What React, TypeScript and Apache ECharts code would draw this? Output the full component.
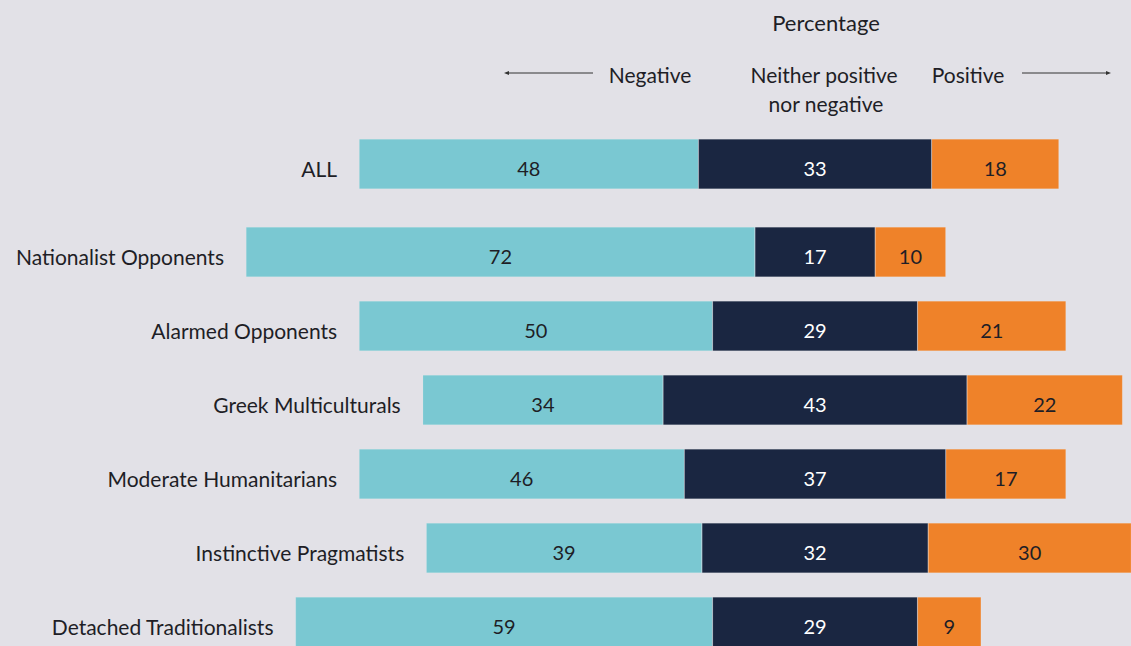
import React, { useEffect, useRef } from "react";
import * as echarts from "echarts";

const categories = [
  "ALL",
  "Nationalist Opponents",
  "Alarmed Opponents",
  "Greek Multiculturals",
  "Moderate Humanitarians",
  "Instinctive Pragmatists",
  "Detached Traditionalists",
];
const negative = [48, 72, 50, 34, 46, 39, 59];
const neither = [33, 17, 29, 43, 37, 32, 29];
const positive = [18, 10, 21, 22, 17, 30, 9];

const CENTER = 115.3; // axis value where the middle of the neutral segment sits
const AXIS_MAX = 160;

const BG = "#E2E1E7";
const TEAL = "#7AC8D2";
const NAVY = "#1A2641";
const ORANGE = "#EF8229";
const TEXT = "#1E1E26";
const FONT = "Lato, 'Noto Sans', sans-serif";

export default function App() {
  const ref = useRef<HTMLDivElement>(null);

  useEffect(() => {
    document.body.style.margin = "0";
    document.body.style.background = BG;
    const chart = echarts.init(ref.current!, undefined, { renderer: "svg" });

    const offsets = categories.map((_, i) => CENTER - negative[i] - neither[i] / 2);

    const groups = [
      { idx: [0], grid: 0 },
      { idx: [1, 2, 3, 4, 5, 6], grid: 1 },
    ];

    const series: any[] = [];
    groups.forEach((g) => {
      const pick = (arr: any[]) => g.idx.map((i) => arr[i]);
      const common = {
        type: "bar",
        stack: "s" + g.grid,
        xAxisIndex: g.grid,
        yAxisIndex: g.grid,
        barWidth: 50,
        emphasis: { disabled: true },
        silent: true,
      };
      series.push({
        ...common,
        name: "offset",
        data: pick(offsets),
        itemStyle: { color: "transparent" },
        label: {
          show: true,
          position: "insideRight",
          distance: 22,
          offset: [0, 4],
          formatter: (p: any) => categories[g.idx[p.dataIndex]],
          color: TEXT,
          fontSize: 21,
          fontFamily: FONT,
        },
      });
      series.push({
        ...common,
        name: "Negative",
        data: pick(negative),
        itemStyle: { color: TEAL, borderColor: "rgba(255,255,255,0.25)", borderWidth: 0.5 },
        label: { show: true, position: "inside", offset: [0, 4], color: TEXT, fontSize: 20, fontFamily: FONT },
      });
      series.push({
        ...common,
        name: "Neither positive nor negative",
        data: pick(neither),
        itemStyle: { color: NAVY, borderColor: "rgba(255,255,255,0.25)", borderWidth: 0.5 },
        label: { show: true, position: "inside", offset: [0, 4], color: "#FFFFFF", fontSize: 20, fontFamily: FONT },
      });
      series.push({
        ...common,
        name: "Positive",
        data: pick(positive),
        itemStyle: { color: ORANGE, borderColor: "rgba(255,255,255,0.25)", borderWidth: 0.5 },
        label: { show: true, position: "inside", offset: [0, 4], color: TEXT, fontSize: 20, fontFamily: FONT },
      });
    });

    const xAxisBase = {
      type: "value",
      min: 0,
      max: AXIS_MAX,
      show: false,
    };
    const yAxisBase = {
      type: "category",
      inverse: true,
      show: false,
    };

    const headText = (text: string, x: number, y: number, size = 21) => ({
      type: "text",
      x,
      y,
      style: {
        text,
        fill: TEXT,
        font: `${size}px ${FONT}`,
        textAlign: "center",
        textVerticalAlign: "middle",
      },
    });

    chart.setOption({
      animation: false,
      backgroundColor: BG,
      textStyle: { fontFamily: FONT },
      grid: [
        { left: 0, right: 0, top: 127, height: 74, containLabel: false },
        { left: 0, right: 0, top: 215, height: 444, containLabel: false },
      ],
      xAxis: [
        { ...xAxisBase, gridIndex: 0 },
        { ...xAxisBase, gridIndex: 1 },
      ],
      yAxis: [
        { ...yAxisBase, gridIndex: 0, data: categories.slice(0, 1) },
        { ...yAxisBase, gridIndex: 1, data: categories.slice(1) },
      ],
      series,
      graphic: [
        headText("Percentage", 826, 22, 22),
        headText("Negative", 650, 74),
        headText("Neither positive", 824, 74),
        headText("nor negative", 826, 103),
        headText("Positive", 968, 74),
        {
          type: "line",
          shape: { x1: 508, y1: 73, x2: 593, y2: 73 },
          style: { stroke: "#333", lineWidth: 1 },
        },
        {
          type: "polygon",
          shape: { points: [[504, 73], [509, 71], [509, 75]] },
          style: { fill: "#333" },
        },
        {
          type: "line",
          shape: { x1: 1022, y1: 73, x2: 1107, y2: 73 },
          style: { stroke: "#333", lineWidth: 1 },
        },
        {
          type: "polygon",
          shape: { points: [[1111, 73], [1106, 71], [1106, 75]] },
          style: { fill: "#333" },
        },
      ],
    });

    return () => chart.dispose();
  }, []);

  return (
    <div
      style={{ position: "fixed", left: 0, top: 0, width: 1131, height: 646, overflow: "hidden", background: BG }}
    >
      <div ref={ref} style={{ width: 1131, height: 662 }} />
    </div>
  );
}
